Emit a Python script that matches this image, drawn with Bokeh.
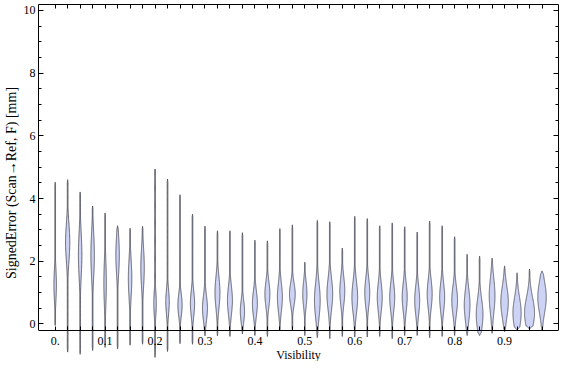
import numpy as np
from bokeh.plotting import figure
from bokeh.models import LinearAxis, FixedTicker, ColumnDataSource, CustomLabelingPolicy
from bokeh.embed import file_html
from bokeh.resources import INLINE

# ---- data (one violin per visibility bin) ----
visibility = [0.0, 0.025, 0.05, 0.075, 0.1, 0.125, 0.15, 0.175, 0.2, 0.225,
              0.25, 0.275, 0.3, 0.325, 0.35, 0.375, 0.4, 0.425, 0.45, 0.475,
              0.5, 0.525, 0.55, 0.575, 0.6, 0.625, 0.65, 0.675, 0.7, 0.725,
              0.75, 0.775, 0.8, 0.825, 0.85, 0.875, 0.9, 0.925, 0.95, 0.975]
err_min = [-0.05, -0.9, -0.97, -0.85, -0.75, -0.8, -0.68, -0.65, -1.07, -0.88,
           -0.63, -0.65, -0.38, -0.38, -0.4, -0.32, -0.37, -0.4, -0.2, -0.2,
           -0.37, -0.44, -0.47, -0.4, -0.42, -0.42, -0.4, -0.47, -0.37, -0.37,
           -0.44, -0.4, -0.37, -0.37, -0.37, -0.3, -0.25, -0.2, -0.16, -0.2]
err_max = [4.52, 4.6, 4.21, 3.76, 3.54, 3.13, 3.05, 3.11, 4.94, 4.62,
           4.12, 3.5, 3.12, 2.97, 2.97, 2.91, 2.67, 2.65, 3.04, 3.16,
           1.97, 3.3, 3.26, 2.42, 3.43, 3.36, 3.13, 3.22, 3.1, 2.93,
           3.28, 3.13, 2.78, 2.22, 2.16, 2.1, 1.85, 1.63, 1.75, 1.69]
err_mode = [1.25, 2.6, 2.2, 2.2, 1.3, 2.2, 1.45, 1.8, 0.65, 0.7,
            0.6, 0.65, 0.5, 1.0, 0.75, 0.4, 0.65, 0.95, 0.85, 0.95,
            0.95, 0.75, 0.95, 1.05, 0.85, 1.0, 0.85, 0.85, 0.85, 0.75,
            0.95, 0.85, 0.75, 0.6, 0.3, 0.9, 0.7, 0.35, 0.35, 0.85]
err_spread = [0.5, 0.6, 0.7, 0.7, 0.7, 0.6, 0.6, 0.6, 0.4, 0.4,
              0.35, 0.4, 0.4, 0.5, 0.45, 0.35, 0.4, 0.4, 0.45, 0.35,
              0.4, 0.55, 0.5, 0.45, 0.5, 0.45, 0.45, 0.45, 0.45, 0.45,
              0.45, 0.45, 0.45, 0.5, 0.5, 0.55, 0.5, 0.5, 0.5, 0.5]
# peak density half-width, as a fraction of the bin spacing
density_peak = [0.10, 0.17, 0.14, 0.14, 0.10, 0.14, 0.14, 0.14, 0.10, 0.14,
                0.17, 0.17, 0.20, 0.20, 0.20, 0.17, 0.20, 0.20, 0.20, 0.23,
                0.17, 0.23, 0.23, 0.20, 0.23, 0.20, 0.20, 0.20, 0.20, 0.20,
                0.20, 0.20, 0.23, 0.23, 0.27, 0.23, 0.30, 0.33, 0.40, 0.34]
x_tick_labels = {0.0: "0.", 0.1: "0.1", 0.2: "0.2", 0.3: "0.3", 0.4: "0.4",
                 0.5: "0.5", 0.6: "0.6", 0.7: "0.7", 0.8: "0.8", 0.9: "0.9"}
y_ticks = [0, 2, 4, 6, 8, 10]
y_minor = [0.5, 1, 1.5, 2.5, 3, 3.5, 4.5, 5, 5.5, 6.5, 7, 7.5, 8.5, 9, 9.5]

# ---- violin outlines ----
step = 0.025
tail = 0.028  # thin tail half-width (fraction of spacing)
xs, ys = [], []
for v, lo, hi, c, s, w in zip(visibility, err_min, err_max, err_mode,
                              err_spread, density_peak):
    yy = np.linspace(lo, hi, 200)
    hw = np.maximum(w * np.exp(-0.5 * ((yy - c) / s) ** 2), tail)
    taper = np.clip(np.minimum(yy - lo, hi - yy) / 0.1, 0, 1)
    hw = hw * taper * step
    xs.append(list(np.concatenate([v + hw, (v - hw)[::-1]])))
    ys.append(list(np.concatenate([yy, yy[::-1]])))

src = ColumnDataSource(dict(xs=xs, ys=ys))

Y_TOP = 10.19
Y_AXIS = -0.22
p = figure(width=560, height=361, x_range=(-0.0334, 1.008),
           y_range=(-1.2, Y_TOP), output_backend="svg", toolbar_location=None,
           min_border_left=0, min_border_right=2, min_border_top=4,
           min_border_bottom=0)
p.grid.visible = False
p.outline_line_color = None
p.background_fill_color = "white"

p.patches("xs", "ys", source=src, fill_color="#ccd3f4", fill_alpha=1.0,
          line_color="#3a3a44", line_alpha=0.75, line_width=1)

font = "Liberation Serif"
no_labels = CustomLabelingPolicy(
    code="for (const i of indices) { indices.unset(i) }\nreturn indices")
every_fourth = CustomLabelingPolicy(
    code="for (const i of indices) { if (i % 4 != 0) indices.unset(i) }\nreturn indices")

# bottom axis (placed at the frame line, violins may pass below it)
xa = p.xaxis[0]
xa.ticker = FixedTicker(ticks=visibility)
xa.major_label_overrides = x_tick_labels
xa.major_label_policy = every_fourth
xa.fixed_location = Y_AXIS
xa.axis_label = "Visibility"
xa.major_tick_in = 4
xa.major_tick_out = 0
xa.minor_tick_in = 0
xa.minor_tick_out = 0
xa.major_label_standoff = 6
xa.axis_label_standoff = 0

ya = p.yaxis[0]
ya.ticker = FixedTicker(ticks=y_ticks, minor_ticks=y_minor)
ya.bounds = (Y_AXIS, Y_TOP)
ya.axis_label = "SignedError (Scan\u2192Ref, F) [mm]"
ya.major_label_standoff = 3
ya.axis_label_standoff = 2

ra = LinearAxis(ticker=FixedTicker(ticks=y_ticks, minor_ticks=y_minor),
                bounds=(Y_AXIS, Y_TOP), major_label_policy=no_labels,
                major_label_overrides={t: "" for t in y_ticks},
                major_label_standoff=0)
p.add_layout(ra, "right")
ta = LinearAxis(ticker=FixedTicker(ticks=visibility),
                major_label_policy=no_labels,
                major_label_overrides={t: "" for t in visibility},
                major_label_standoff=0)
p.add_layout(ta, "above")

for ax in [ya, ra]:
    ax.major_tick_in = 5
    ax.major_tick_out = 0
    ax.minor_tick_in = 3
    ax.minor_tick_out = 0
ta.major_tick_in = 4
ta.major_tick_out = 0
ta.minor_tick_in = 0
ta.minor_tick_out = 0

for ax in [xa, ya, ra, ta]:
    ax.axis_line_color = "black"
    ax.major_tick_line_color = "black"
    ax.minor_tick_line_color = "black"
    ax.major_label_text_font = font
    ax.major_label_text_color = "black"
    ax.major_label_text_font_size = "12px"
    ax.axis_label_text_font = font
    ax.axis_label_text_font_style = "normal"
    ax.axis_label_text_color = "black"
    ax.axis_label_text_font_size = "12px"
ya.axis_label_text_font_size = "14px"

open("out.html", "w").write(file_html(p, INLINE))
